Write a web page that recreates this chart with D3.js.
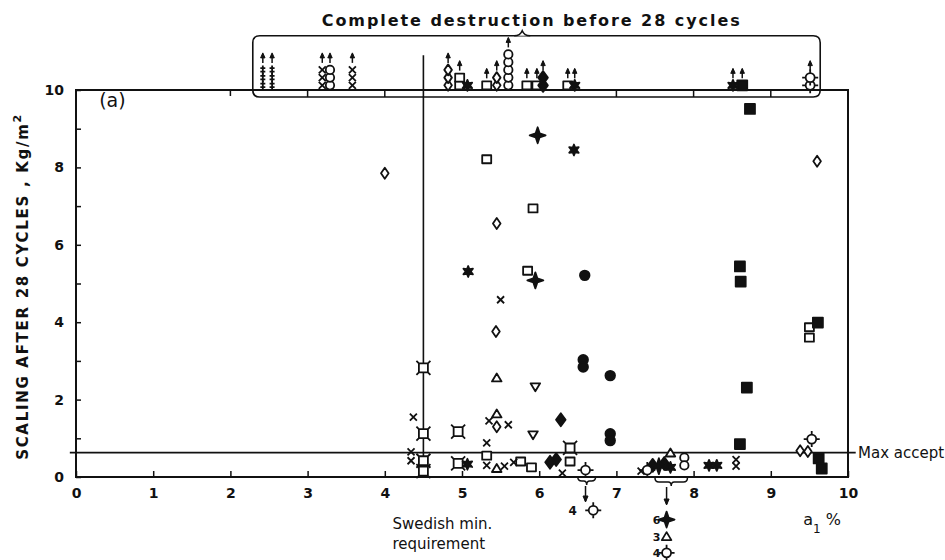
<!DOCTYPE html>
<html><head><meta charset="utf-8">
<script src="https://cdn.jsdelivr.net/npm/d3@7"></script>
<style>
body{margin:0;background:#fff}
text{font-family:"DejaVu Sans",sans-serif;fill:#111}
</style>
</head><body>
<svg id="c" width="945" height="560"></svg>
<script>
// ---------- data ----------
const xTicks = [0,1,2,3,4,5,6,7,8,9,10];
const yTicks = [0,1,2,3,4,5,6,7,8,9,10];
const yTickLabels = [0,2,4,6,8,10];
const boxTicks = [3,4,7,8,9];
const swedishMin = 4.5;
const maxAccept = 0.63;

const openDiamond = [[4.0,7.85],[5.45,6.55],[5.44,3.76],[5.45,1.3],[9.6,8.16],[9.38,0.68],[9.48,0.66]];
const openSquare = [[5.32,8.21],[5.92,6.94],[5.85,5.33],[5.32,0.55],[5.76,0.4],[5.9,0.25],[6.4,0.4],[9.5,3.87],[9.5,3.6]];
const openCircle = [[7.88,0.5],[7.88,0.3]];
const filledSquare = [[8.73,9.51],[8.6,5.44],[8.61,5.05],[9.61,3.99],[8.69,2.31],[8.6,0.85],[9.62,0.48],[9.66,0.22]];
const filledCircle = [[6.59,5.21],[6.57,3.03],[6.57,2.84],[6.92,2.62],[6.92,1.12],[6.92,0.94]];
const filledStar = [[5.98,8.83],[5.95,5.08],[7.55,0.28]];
const splat = [[6.45,8.45],[5.08,5.31],[5.07,0.33],[8.2,0.3],[8.3,0.3],[7.7,0.25]];
const cross = [[5.5,4.58],[4.37,1.55],[4.34,0.65],[4.34,0.42],[5.32,0.88],[5.32,0.3],[5.35,1.45],[5.6,1.35],[5.55,0.28],[5.67,0.38],[6.3,0.1],[7.32,0.15],[8.55,0.45],[8.55,0.28]];
const openTriangle = [[5.45,2.56],[5.45,1.63],[5.45,0.22],[7.7,0.62]];
const openTriangleDown = [[5.95,2.33],[5.92,1.09]];
const filledDiamond = [[6.28,1.48],[6.22,0.45],[6.14,0.38],[7.62,0.35],[7.47,0.3]];
const bracketSquare = [[4.5,2.82],[4.5,1.12],[4.5,0.42],[4.5,0.15],[4.95,1.17],[4.95,0.35],[6.4,0.75]];
const sunCircle = [[6.6,0.18],[9.53,0.98],[7.4,0.18]];

// complete destruction before 28 cycles: [x, symbol, count, arrow]
const destroyed = [
  [2.42,"dagger",3],[2.54,"dagger",3],
  [3.19,"cross",3],[3.29,"circle",3],[3.58,"cross",3],
  [4.82,"diamond",3],[4.97,"square",2],[5.07,"splat",1,false],
  [5.32,"square",1],[5.45,"diamond",2],[5.6,"circle",5],
  [5.84,"square",1],[5.97,"square",1],[6.05,"filledDiamond",2],
  [6.37,"square",1],[6.46,"splat",1],
  [8.51,"splat",1],[8.63,"filledSquare",1],
  [9.51,"sunCircle",2]
];

// ---------- scales ----------
const x = d3.scaleLinear().domain([0,10]).range([76,848]);
const y = d3.scaleLinear().domain([0,10]).range([477,90]);
const svg = d3.select("#c");
const ink = "#111";

// ---------- symbols ----------
function starPath(n, ro, ri){
  let p=[];
  for(let i=0;i<2*n;i++){const a=Math.PI*i/n - Math.PI/2; const r=i%2?ri:ro; p.push([r*Math.cos(a), r*Math.sin(a)]);}
  return "M"+p.map(d=>d[0].toFixed(2)+","+d[1].toFixed(2)).join("L")+"Z";
}
const circ = r => `M${r},0A${r},${r} 0 1 1 ${-r},0A${r},${r} 0 1 1 ${r},0Z`;
const SYM = {
  diamond: {d:"M0,-5.5L3.8,0L0,5.5L-3.8,0Z", fill:false},
  square: {d:"M-4.5,-4H4.5V4H-4.5Z", fill:false},
  circle: {d:circ(4.2), fill:false},
  filledSquare: {d:"M-5,-5H5V5H-5Z", fill:true},
  filledCircle: {d:circ(4.8), fill:true},
  filledStar: {d:"M0,-8L2,-2L8,0L2,2L0,8L-2,2L-8,0L-2,-2Z", fill:true},
  splat: {d:starPath(6,5.5,2.6), fill:true},
  cross: {d:"M-3.5,-3.5L3.5,3.5M3.5,-3.5L-3.5,3.5", fill:false},
  triangle: {d:"M0,-4.5L4.8,3.5L-4.8,3.5Z", fill:false},
  triangleDown: {d:"M0,4.5L4.8,-3.5L-4.8,-3.5Z", fill:false},
  filledDiamond: {d:"M0,-6.5L4.8,0L0,6.5L-4.8,0Z", fill:true},
  bracketSquare: {d:"M-4.5,-4.5H4.5V4.5H-4.5ZM-7,-7L-4.5,-4.5M7,-7L4.5,-4.5M7,7L4.5,4.5M-7,7L-4.5,4.5", fill:false},
  sunCircle: {d:circ(4.5)+"M0,-4.5V-8M0,4.5V8M-4.5,0H-8M4.5,0H8", fill:false},
  dagger: {d:"M0,-4.5V4.5M-2.5,-1.8H2.5M-2.5,1.8H2.5", fill:false}
};
function drawPts(data, name){
  const s = SYM[name];
  svg.append("g").selectAll("path").data(data).join("path")
    .attr("transform", d=>`translate(${x(d[0])},${y(d[1])})`)
    .attr("d", s.d)
    .attr("fill", s.fill? ink : "#fff")
    .attr("stroke", ink).attr("stroke-width", 1.8)
    .attr("stroke-linejoin","round");
}
function arrowUp(px, pyBase, len){
  svg.append("path").attr("d",`M${px},${pyBase}V${pyBase-len}`).attr("stroke",ink).attr("stroke-width",1.5);
  svg.append("path").attr("d",`M${px-2.2},${pyBase-len+4}L${px},${pyBase-len-1}L${px+2.2},${pyBase-len+4}Z`).attr("fill",ink).attr("stroke",ink);
}
function arrowDown(px, py0, py1){
  svg.append("path").attr("d",`M${px},${py0}V${py1}`).attr("stroke",ink).attr("stroke-width",1.5);
  svg.append("path").attr("d",`M${px-2.5},${py1-5}L${px},${py1+1}L${px+2.5},${py1-5}Z`).attr("fill",ink).attr("stroke",ink);
}
function braceDown(x0, x1, py){
  const m=(x0+x1)/2;
  svg.append("path").attr("d",`M${x0},${py-4}Q${x0},${py} ${x0+4},${py}H${m-3}Q${m},${py} ${m},${py+4}Q${m},${py} ${m+3},${py}H${x1-4}Q${x1},${py} ${x1},${py-4}`)
    .attr("fill","none").attr("stroke",ink).attr("stroke-width",1.5);
}

// ---------- frame & axes ----------
svg.append("rect").attr("x",x(0)).attr("y",y(10)).attr("width",x(10)-x(0)).attr("height",y(0)-y(10))
  .attr("fill","none").attr("stroke",ink).attr("stroke-width",2);

const yAxis = d3.axisLeft(y).tickValues(yTicks).tickSize(-5).tickPadding(12)
  .tickFormat(d=> yTickLabels.includes(d)? d : "");
const ya = svg.append("g").attr("transform",`translate(${x(0)},0)`).call(yAxis);
ya.select(".domain").remove();
ya.selectAll("line").attr("stroke",ink).attr("stroke-width",1.5);
ya.selectAll("text").attr("font-size",14).attr("font-weight","bold").attr("fill",ink).attr("font-family","DejaVu Sans Condensed, DejaVu Sans");

const xAxis = d3.axisBottom(x).tickValues(xTicks).tickSize(-6).tickPadding(11);
const xa = svg.append("g").attr("transform",`translate(0,${y(0)})`).call(xAxis);
xa.select(".domain").remove();
xa.selectAll("line").attr("stroke",ink).attr("stroke-width",1.5);
xa.selectAll("text").attr("font-size",14).attr("font-weight","bold").attr("fill",ink).attr("font-family","DejaVu Sans Condensed, DejaVu Sans");

// y label
svg.append("text").attr("transform",`translate(28,${y(4.9)}) rotate(-90)`).attr("text-anchor","middle")
  .attr("font-size",15).attr("font-weight","bold").attr("font-family","DejaVu Sans Condensed, DejaVu Sans")
  .attr("textLength",345).attr("lengthAdjust","spacing")
  .text("SCALING  AFTER  28 CYCLES , Kg/m").append("tspan").attr("dy",-7).attr("font-size",11).text("2");

svg.append("text").attr("x",x(0.3)).attr("y",y(9.55)).attr("font-size",19).text("(a)");

// ---------- reference lines ----------
svg.append("path").attr("d",`M${x(swedishMin)},${y(10.9)}V${y(0)}`).attr("stroke",ink).attr("stroke-width",1.6);
svg.append("path").attr("d",`M${x(-0.08)},${y(maxAccept)}H${x(10.1)}`).attr("stroke",ink).attr("stroke-width",1.6);
svg.append("text").attr("x",x(10.13)).attr("y",y(maxAccept)+5).attr("font-size",15).text("Max accept");

// ---------- destruction box ----------
const bx0=x(2.29), bx1=x(9.64), by0=y(11.4), by1=y(9.82), rr=7;
svg.append("path").attr("d",`M${bx0+rr},${by1}Q${bx0},${by1} ${bx0},${by1-rr}V${by0+rr}Q${bx0},${by0} ${bx0+rr},${by0}H${bx1-rr}Q${bx1},${by0} ${bx1},${by0+rr}V${by1-rr}Q${bx1},${by1} ${bx1-rr},${by1}Z`)
  .attr("fill","none").attr("stroke",ink).attr("stroke-width",1.6);
const bm = x(5.78);
svg.append("path").attr("d",`M${bm-8},${by0}Q${bm-2},${by0} ${bm},${by0-5}Q${bm+2},${by0} ${bm+8},${by0}`).attr("fill","#fff").attr("stroke",ink).attr("stroke-width",1.6);
svg.append("text").attr("x",x(5.89)).attr("y",y(11.6)-2).attr("text-anchor","middle").attr("font-size",16)
  .attr("font-weight","bold").attr("font-family","DejaVu Sans Condensed, DejaVu Sans")
  .attr("textLength",418).attr("lengthAdjust","spacing").text("Complete destruction before 28 cycles");
svg.append("g").selectAll("path").data(boxTicks).join("path")
  .attr("d",d=>`M${x(d)},${by1}V${by1-6}`).attr("stroke",ink).attr("stroke-width",1.5);
svg.append("path").attr("d",`M${x(2)},${y(10)}V${y(10)+6}`).attr("stroke",ink).attr("stroke-width",1.5);

const step = 0.2;
destroyed.forEach(([vx, name, n, arrow]) => {
  const pts = d3.range(n).map(k => [vx, 10.12 + k*step]);
  drawPts(pts, name);
  if (arrow !== false) arrowUp(x(vx), y(10.12 + (n-1)*step) - 7, 9);
});

// ---------- main points ----------
drawPts(openDiamond,"diamond");
drawPts(openSquare,"square");
drawPts(openCircle,"circle");
drawPts(filledSquare,"filledSquare");
drawPts(filledCircle,"filledCircle");
drawPts(bracketSquare,"bracketSquare");
drawPts(cross,"cross");
drawPts(openTriangle,"triangle");
drawPts(openTriangleDown,"triangleDown");
drawPts(filledDiamond,"filledDiamond");
drawPts(splat,"splat");
drawPts(filledStar,"filledStar");
drawPts(sunCircle,"sunCircle");

// ---------- below-axis annotations ----------
braceDown(x(6.5), x(6.73), y(0)+4);
arrowDown(x(6.6), y(0)+9, y(0)+24);
svg.append("text").attr("x",x(6.38)).attr("y",y(0)+38).attr("font-size",12).attr("font-weight","bold").text("4");
drawPts([[6.7,-0.86]],"sunCircle");

braceDown(x(7.5), x(7.92), y(0)+5);
arrowDown(x(7.65), y(0)+10, y(0)+27);
const legendRows = [["6","filledStar",-1.1],["3","triangle",-1.54],["4","sunCircle",-1.96]];
legendRows.forEach(([t,s,v])=>{
  svg.append("text").attr("x",x(7.47)).attr("y",y(v)+4).attr("font-size",11).attr("font-weight","bold").text(t);
  drawPts([[7.65,v]], s);
});

svg.append("text").attr("x",x(4.1)).attr("y",y(-1.35)).attr("font-size",15).text("Swedish min.");
svg.append("text").attr("x",x(4.1)).attr("y",y(-1.85)).attr("font-size",15).text("requirement");

const a1 = svg.append("text").attr("x",x(9.42)).attr("y",y(-1.25)).attr("font-size",16);
a1.append("tspan").text("a");
a1.append("tspan").attr("dy",8).attr("font-size",12).text("1");
a1.append("tspan").attr("dy",-8).text(" %");
</script>
</body></html>
